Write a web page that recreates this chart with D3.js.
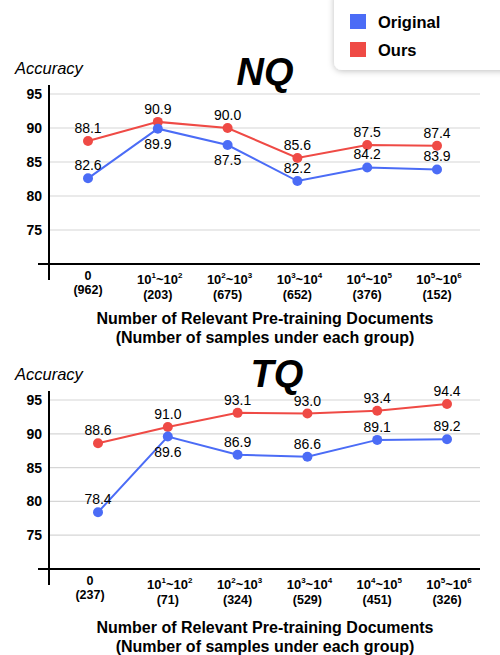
<!DOCTYPE html>
<html>
<head>
<meta charset="utf-8">
<script src="https://cdn.jsdelivr.net/npm/d3@7"></script>
<style>
  body { margin: 0; background: #fff; }
  svg { font-family: "Liberation Sans", Arial, Helvetica, sans-serif; }
</style>
</head>
<body>
<svg id="chart" width="500" height="655"></svg>
<script>
// categories (exponent pairs) and sample counts
const categories = ['0', '1~2', '2~3', '3~4', '4~5', '5~6'];
const nqCounts = ['(962)', '(203)', '(675)', '(652)', '(376)', '(152)'];
const tqCounts = ['(237)', '(71)', '(324)', '(529)', '(451)', '(326)'];
const nqOriginal = [82.6, 89.9, 87.5, 82.2, 84.2, 83.9];
const nqOurs = [88.1, 90.9, 90.0, 85.6, 87.5, 87.4];
const tqOriginal = [78.4, 89.6, 86.9, 86.6, 89.1, 89.2];
const tqOurs = [88.6, 91.0, 93.1, 93.0, 93.4, 94.4];
const yTicks = [75, 80, 85, 90, 95];
// where the value label sits: 1 = above, -1 = below
const nqOrigLabelPos = [1, -1, -1, 1, 1, 1];
const tqOrigLabelPos = [1, -1, 1, 1, 1, 1];

const BLUE = '#4b6cf6';
const RED = '#ef4a45';

const svg = d3.select('#chart');

function drawPanel(opts) {
    const g = svg.append('g');
    const y = d3.scaleLinear().domain([70, 95]).range([opts.axisY, opts.y95]);
    const x = d3.scalePoint().domain(categories).range([opts.x0, opts.x0 + 349]);

    // grid
    g.selectAll('.grid').data(yTicks).enter().append('line')
        .attr('x1', 49).attr('x2', 480)
        .attr('y1', d => y(d)).attr('y2', d => y(d))
        .attr('stroke', '#d6d6d6').attr('stroke-width', 1.2);

    // y tick labels
    g.selectAll('.ytick').data(yTicks).enter().append('text')
        .attr('x', 42).attr('y', d => y(d) + 5)
        .attr('text-anchor', 'end')
        .attr('font-size', 14).attr('font-weight', 'bold')
        .text(d => d);

    // axes
    g.append('line').attr('x1', 49).attr('x2', 49)
        .attr('y1', opts.y95 - 9).attr('y2', opts.axisY + 16)
        .attr('stroke', '#000').attr('stroke-width', 2);
    g.append('line').attr('x1', 38).attr('x2', 480)
        .attr('y1', opts.axisY).attr('y2', opts.axisY)
        .attr('stroke', '#000').attr('stroke-width', 2);

    // accuracy label & title
    g.append('text').attr('x', 15).attr('y', opts.y95 - 20)
        .attr('font-size', 16.5).attr('font-style', 'italic')
        .text('Accuracy');
    g.append('text').attr('x', opts.titleX).attr('y', opts.titleY)
        .attr('text-anchor', 'middle')
        .attr('font-size', 38).attr('font-style', 'italic').attr('font-weight', 'bold')
        .text(opts.title);

    // x tick labels
    categories.forEach((c, i) => {
        const cx = x(c);
        if (c === '0') {
            const zx = cx + opts.zeroShift;
            g.append('text').attr('x', zx).attr('y', opts.axisY + 16)
                .attr('text-anchor', 'middle').attr('font-size', 12.5).attr('font-weight', 'bold')
                .text('0');
            g.append('text').attr('x', zx).attr('y', opts.axisY + 30)
                .attr('text-anchor', 'middle').attr('font-size', 12.5).attr('font-weight', 'bold')
                .text(opts.counts[i]);
        } else {
            const [a, b] = c.split('~');
            const t = g.append('text').attr('x', cx + 2).attr('y', opts.axisY + 20)
                .attr('text-anchor', 'middle').attr('font-size', 13).attr('font-weight', 'bold');
            t.append('tspan').text('10');
            t.append('tspan').attr('font-size', 8).attr('dy', -6).text(a);
            t.append('tspan').attr('dy', 6).text('~10');
            t.append('tspan').attr('font-size', 8).attr('dy', -6).text(b);
            g.append('text').attr('x', cx).attr('y', opts.axisY + 35)
                .attr('text-anchor', 'middle').attr('font-size', 12.5).attr('font-weight', 'bold')
                .text(opts.counts[i]);
        }
    });

    // x axis title
    g.append('text').attr('x', 265).attr('y', opts.axisY + opts.titleOff)
        .attr('text-anchor', 'middle').attr('font-size', 16).attr('font-weight', 'bold')
        .text('Number of Relevant Pre-training Documents');
    g.append('text').attr('x', 265).attr('y', opts.axisY + opts.titleOff + 19)
        .attr('text-anchor', 'middle').attr('font-size', 16).attr('font-weight', 'bold')
        .text('(Number of samples under each group)');

    const line = d3.line().x((d, i) => x(categories[i])).y(d => y(d));
    const series = [
        { vals: opts.ours, color: RED, pos: categories.map(() => 1) },
        { vals: opts.orig, color: BLUE, pos: opts.origPos }
    ];
    series.forEach(s => {
        g.append('path').datum(s.vals).attr('d', line)
            .attr('fill', 'none').attr('stroke', s.color).attr('stroke-width', 2);
        g.selectAll(null).data(s.vals).enter().append('circle')
            .attr('cx', (d, i) => x(categories[i])).attr('cy', d => y(d))
            .attr('r', 5).attr('fill', s.color);
        g.selectAll(null).data(s.vals).enter().append('text')
            .attr('x', (d, i) => x(categories[i]))
            .attr('y', (d, i) => s.pos[i] > 0 ? y(d) - 8 : y(d) + 20)
            .attr('text-anchor', 'middle').attr('font-size', 14).attr('font-weight', 500)
            .text(d => d.toFixed(1));
    });
}

drawPanel({ title: 'NQ', titleX: 265, titleY: 85, axisY: 264, y95: 94, x0: 88, zeroShift: 0,
    titleOff: 60, counts: nqCounts, orig: nqOriginal, ours: nqOurs, origPos: nqOrigLabelPos });
drawPanel({ title: 'TQ', titleX: 277, titleY: 387, axisY: 569, y95: 400, x0: 98, zeroShift: -8,
    titleOff: 64, counts: tqCounts, orig: tqOriginal, ours: tqOurs, origPos: tqOrigLabelPos });

// legend
const defs = svg.append('defs');
const f = defs.append('filter').attr('id', 'shadow').attr('x', '-20%').attr('y', '-20%')
    .attr('width', '140%').attr('height', '150%');
f.append('feDropShadow').attr('dx', 0).attr('dy', 1).attr('stdDeviation', 3)
    .attr('flood-color', '#000').attr('flood-opacity', 0.25);
const leg = svg.append('g');
leg.append('rect').attr('x', 334).attr('y', -10).attr('width', 190).attr('height', 80)
    .attr('rx', 8).attr('fill', '#fff').attr('filter', 'url(#shadow)');
const legendItems = [{ name: 'Original', color: BLUE }, { name: 'Ours', color: RED }];
legendItems.forEach((d, i) => {
    leg.append('rect').attr('x', 350).attr('y', 14 + i * 28).attr('width', 16).attr('height', 15)
        .attr('fill', d.color);
    leg.append('text').attr('x', 378).attr('y', 28 + i * 28)
        .attr('font-size', 16.5).attr('font-weight', 'bold').text(d.name);
});
</script>
</body>
</html>
